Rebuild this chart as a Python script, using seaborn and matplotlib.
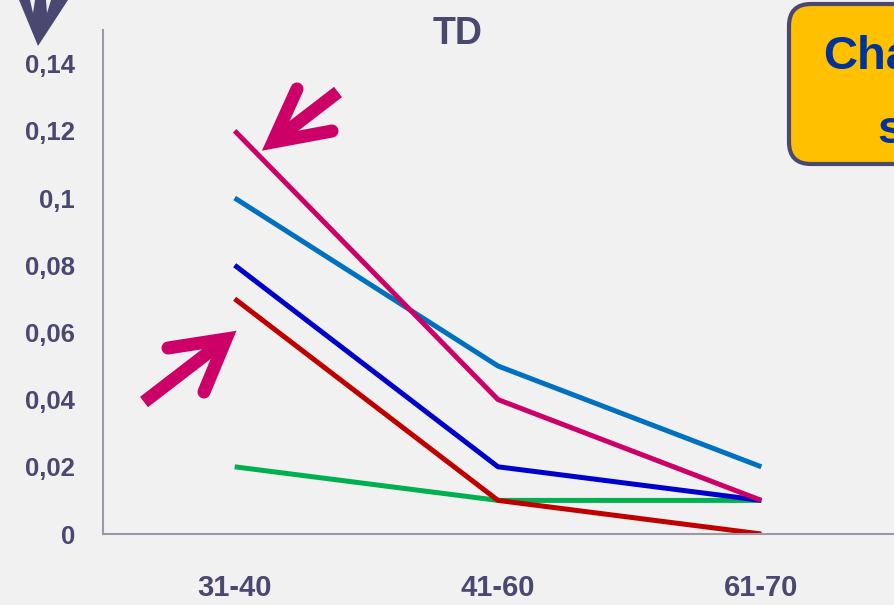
import matplotlib
matplotlib.use("Agg")
import matplotlib.pyplot as plt
import seaborn as sns
import pandas as pd
from matplotlib.lines import Line2D
from matplotlib.patches import FancyBboxPatch, Polygon
from matplotlib.transforms import IdentityTransform

# ---- data -------------------------------------------------------------
age_groups = ["31-40", "41-60", "61-70"]
series_magenta = [0.12, 0.04, 0.01]
series_skyblue = [0.10, 0.05, 0.02]
series_blue = [0.08, 0.02, 0.01]
series_red = [0.07, 0.01, 0.00]
series_green = [0.02, 0.01, 0.01]
series_names = ["green", "red", "blue", "skyblue", "magenta"]
series_colors = ["#00B050", "#C00000", "#0000CC", "#0070C0", "#CC0066"]
y_ticks = [0, 0.02, 0.04, 0.06, 0.08, 0.10, 0.12, 0.14]
y_tick_labels = ["0", "0,02", "0,04", "0,06", "0,08", "0,1", "0,12", "0,14"]
title_text = "TD"
box_lines = ["Changes", "small"]

values = {
    "green": series_green,
    "red": series_red,
    "blue": series_blue,
    "skyblue": series_skyblue,
    "magenta": series_magenta,
}
rows = []
for name in series_names:
    for age, v in zip(age_groups, values[name]):
        rows.append({"age": age, "value": v, "series": name})
df = pd.DataFrame(rows)

# ---- style ------------------------------------------------------------
sns.set_style("white")
plt.rcParams["font.family"] = ["Liberation Sans", "DejaVu Sans"]
plt.rcParams["font.weight"] = "bold"

W, H = 894, 605
ink = "#4A4870"
axis_grey = "#9A98A8"
bg = "#F1F1F1"

fig = plt.figure(figsize=(W / 100, H / 100), dpi=100)
fig.patch.set_facecolor(bg)

ax = fig.add_axes([103 / W, (H - 534) / H, (893 - 103) / W, (534 - 30) / H])
ax.set_facecolor("none")

sns.lineplot(
    data=df, x="age", y="value", hue="series", hue_order=series_names,
    palette=series_colors, linewidth=3.6, legend=False, sort=False, ax=ax,
)
for ln in ax.lines:
    ln.set_solid_capstyle("butt")

ax.set_xlim(-0.5, 2.5)
ax.set_ylim(0, 0.15)
ax.set_xlabel("")
ax.set_ylabel("")

ax.set_xticks(range(len(age_groups)))
ax.set_xticklabels(age_groups)
ax.set_xticks([-0.5, 0.5, 1.5, 2.5], minor=True)
ax.tick_params(axis="x", which="major", length=0, pad=29, labelsize=21, labelcolor=ink)
ax.tick_params(axis="x", which="minor", length=9, width=1.5, color=axis_grey, direction="out")

ax.set_yticks(y_ticks)
ax.set_yticklabels(y_tick_labels)
ax.tick_params(axis="y", length=7, width=1.5, color=axis_grey, direction="out",
               pad=13, labelsize=18.5, labelcolor=ink)

for side in ("top", "right"):
    ax.spines[side].set_visible(False)
for side in ("left", "bottom"):
    ax.spines[side].set_color(axis_grey)
    ax.spines[side].set_linewidth(1.5)

# ---- title ------------------------------------------------------------
fig.text(458 / W, 1 - 34 / H, title_text, ha="center", va="center",
         fontsize=27, fontweight="bold", color=ink)

ident = IdentityTransform()


def p(pt):
    """top-left pixel coordinates -> display coordinates"""
    return pt[0], H - pt[1]


# ---- callout arrows ----------------------------------------------------
def chevron_arrow(vertex, arm_a, arm_b, tail, color, lw=9.4):
    xs, ys = zip(p(arm_a), p(vertex), p(arm_b))
    fig.add_artist(Line2D(xs, ys, color=color, linewidth=lw, transform=ident,
                          solid_capstyle="round", solid_joinstyle="miter"))
    xs, ys = zip(p(tail), p(vertex))
    fig.add_artist(Line2D(xs, ys, color=color, linewidth=lw, transform=ident,
                          solid_capstyle="butt", solid_joinstyle="miter"))


chevron_arrow(vertex=(273, 142), arm_a=(297, 89), arm_b=(332, 131), tail=(338, 92),
              color="#CC0066")
chevron_arrow(vertex=(226, 339), arm_a=(168, 348), arm_b=(204, 392), tail=(144, 402),
              color="#CC0066")

# dark arrowhead in the top-left corner
fig.add_artist(Polygon([p((19, 0)), p((68, 0)), p((38, 46))], closed=True,
                       facecolor=ink, edgecolor="none", transform=ident))
for notch in ([(30, 0), (35, 0), (33, 13)], [(46, 0), (51, 0), (47, 13)]):
    fig.add_artist(Polygon([p(q) for q in notch], closed=True,
                           facecolor=bg, edgecolor="none", transform=ident))

# ---- yellow callout box -------------------------------------------------
box = FancyBboxPatch((789, H - 164), 220, 160,
                     boxstyle="round,pad=0,rounding_size=22",
                     facecolor="#FFC000", edgecolor=ink, linewidth=3,
                     transform=ident)
fig.add_artist(box)
fig.text(823 / W, 1 - 69 / H, box_lines[0], ha="left", va="baseline",
         fontsize=34, fontweight="bold", color="#003399")
fig.text(877 / W, 1 - 143 / H, box_lines[1], ha="left", va="baseline",
         fontsize=34, fontweight="bold", color="#003399")

fig.savefig("out.png", dpi=100)
